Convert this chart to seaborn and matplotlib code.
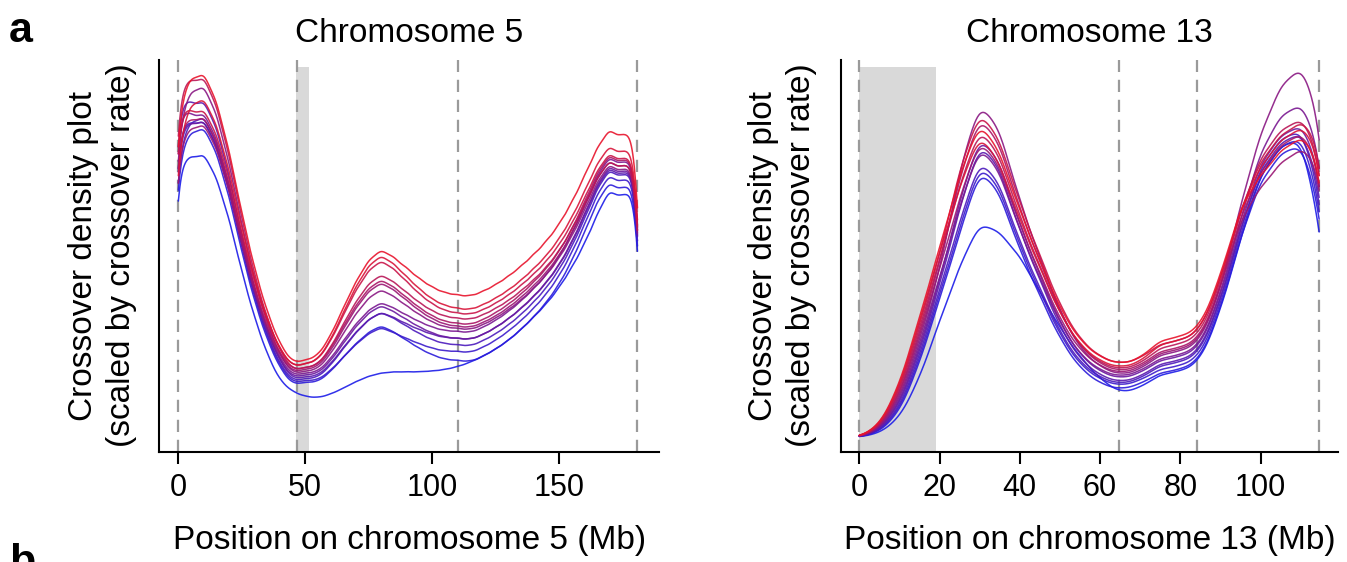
import numpy as np
import pandas as pd
import matplotlib
matplotlib.use("Agg")
import matplotlib.pyplot as plt
import seaborn as sns

sns.set_style("ticks")
plt.rcParams["font.family"] = ["Liberation Sans", "DejaVu Sans"]
plt.rcParams["text.color"] = "black"
plt.rcParams["axes.labelcolor"] = "black"
plt.rcParams["xtick.color"] = "black"
plt.rcParams["ytick.color"] = "black"

# Crossover rate per 5-Mb step along each chromosome, one list per sample
STEP_MB = 5
chr5_pos = list(range(0, 181, STEP_MB))
chr13_pos = list(range(0, 116, STEP_MB))
samples = [f"S{i:02d}" for i in range(1, 15)]

chr5_S01 = [.953, .985, 1.01, .928, .792, .616, .464, .344, .256, .203, .212, .222, .278, .355, .429, .488, .52, .495, .466, .436, .413, .397, .392, .387, .401, .419, .442, .47, .502, .538, .584, .644, .717, .795, .856, .816, .886]
chr5_S02 = [.851, .915, .94, .863, .738, .575, .434, .323, .242, .193, .202, .211, .266, .342, .415, .473, .504, .477, .442, .408, .38, .362, .355, .35, .364, .382, .404, .431, .463, .499, .544, .602, .674, .751, .81, .77, .84]
chr5_S03 = [.949, .885, .91, .836, .715, .559, .424, .318, .24, .193, .202, .21, .263, .335, .405, .46, .49, .463, .429, .394, .367, .348, .342, .337, .35, .368, .39, .417, .448, .483, .528, .585, .656, .731, .79, .75, .82]
chr5_S04 = [1.0, .974, .999, .916, .779, .601, .447, .326, .237, .183, .192, .198, .245, .311, .373, .423, .451, .427, .399, .37, .348, .332, .328, .323, .336, .354, .375, .402, .432, .467, .511, .568, .638, .712, .77, .73, .80]
chr5_S05 = [.894, .865, .89, .817, .698, .544, .411, .306, .229, .183, .192, .197, .242, .304, .363, .41, .437, .413, .385, .356, .334, .318, .314, .309, .323, .342, .365, .393, .426, .463, .509, .57, .645, .724, .785, .745, .815]
chr5_S06 = [.838, .845, .87, .798, .682, .531, .401, .298, .223, .178, .187, .192, .236, .297, .356, .402, .429, .405, .377, .348, .326, .31, .306, .301, .315, .333, .356, .384, .416, .453, .498, .558, .632, .71, .77, .73, .80]
chr5_S07 = [.902, .95, .975, .893, .758, .583, .432, .313, .226, .173, .182, .186, .228, .285, .34, .384, .41, .387, .362, .337, .317, .303, .30, .295, .309, .327, .35, .377, .409, .445, .491, .55, .623, .70, .76, .72, .79]
chr5_S08 = [.951, .875, .90, .825, .702, .542, .404, .296, .216, .168, .177, .179, .215, .265, .312, .35, .374, .355, .336, .318, .303, .293, .292, .287, .302, .321, .345, .374, .408, .446, .495, .558, .635, .717, .78, .74, .81]
chr5_S09 = [.881, .855, .88, .806, .685, .529, .394, .288, .21, .163, .172, .174, .209, .258, .305, .342, .366, .345, .324, .303, .287, .275, .273, .268, .282, .301, .325, .354, .387, .425, .473, .535, .611, .693, .755, .715, .785]
chr5_S10 = [.972, .909, .934, .855, .724, .555, .409, .293, .209, .158, .167, .168, .201, .246, .29, .324, .347, .329, .312, .296, .283, .274, .273, .268, .282, .301, .325, .353, .386, .424, .471, .532, .608, .688, .75, .71, .78]
chr5_S11 = [.833, .865, .89, .814, .69, .53, .391, .281, .201, .153, .162, .163, .197, .244, .288, .324, .347, .327, .306, .285, .268, .257, .255, .25, .265, .284, .308, .337, .371, .41, .459, .522, .599, .682, .745, .705, .775]
chr5_S12 = [.896, .855, .88, .805, .682, .522, .384, .276, .196, .148, .157, .156, .183, .22, .256, .285, .305, .287, .272, .257, .245, .237, .237, .232, .247, .266, .291, .32, .354, .393, .442, .505, .583, .666, .73, .69, .76]
chr5_S13 = [.811, .835, .86, .786, .665, .509, .374, .268, .19, .143, .152, .151, .18, .22, .258, .289, .31, .289, .267, .244, .227, .214, .212, .207, .222, .242, .266, .296, .33, .37, .419, .483, .562, .646, .71, .67, .74]
chr5_S14 = [.784, .765, .787, .717, .603, .456, .329, .228, .155, .125, .112, .108, .118, .135, .153, .168, .177, .18, .18, .18, .182, .186, .194, .206, .222, .242, .266, .295, .33, .366, .41, .465, .53, .61, .69, .65, .72]

chr13_S01 = [0, .03, .14, .33, .52, .721, .883, .788, .621, .487, .353, .264, .219, .20, .215, .27, .275, .30, .44, .64, .72, .79, .83, .799]
chr13_S02 = [0, .029, .134, .319, .508, .687, .85, .757, .596, .467, .338, .252, .208, .19, .205, .26, .265, .29, .43, .63, .748, .818, .858, .821]
chr13_S03 = [0, .027, .128, .309, .498, .737, .914, .822, .642, .501, .361, .267, .22, .20, .215, .26, .265, .29, .43, .63, .762, .832, .872, .847]
chr13_S04 = [0, .026, .122, .298, .486, .692, .867, .777, .605, .472, .338, .249, .204, .185, .20, .25, .255, .28, .42, .62, .775, .845, .885, .812]
chr13_S05 = [0, .024, .115, .287, .474, .714, .90, .811, .626, .484, .342, .248, .20, .18, .195, .24, .245, .27, .41, .61, .734, .804, .844, .78]
chr13_S06 = [0, .023, .11, .277, .463, .656, .836, .749, .582, .452, .323, .237, .194, .175, .19, .235, .24, .265, .405, .605, .687, .757, .797, .779]
chr13_S07 = [0, .022, .103, .266, .451, .735, .938, .852, .647, .495, .344, .242, .192, .17, .185, .23, .235, .26, .40, .64, .84, .97, 1.03, .916]
chr13_S08 = [0, .02, .097, .254, .439, .631, .818, .734, .566, .439, .311, .226, .183, .165, .18, .22, .225, .25, .39, .60, .79, .887, .927, .829]
chr13_S09 = [0, .019, .09, .243, .427, .648, .845, .762, .582, .448, .314, .224, .179, .16, .175, .215, .22, .245, .385, .585, .76, .83, .87, .771]
chr13_S10 = [0, .018, .085, .233, .417, .628, .825, .744, .566, .434, .301, .213, .169, .15, .165, .205, .21, .235, .375, .575, .74, .81, .85, .732]
chr13_S11 = [0, .016, .078, .222, .405, .588, .781, .701, .535, .411, .287, .204, .163, .145, .16, .20, .205, .23, .37, .57, .75, .82, .86, .699]
chr13_S12 = [0, .015, .072, .211, .393, .572, .767, .689, .524, .402, .28, .198, .158, .14, .155, .19, .195, .22, .36, .56, .73, .80, .84, .675]
chr13_S13 = [0, .013, .066, .201, .382, .557, .753, .676, .512, .39, .269, .188, .147, .13, .145, .18, .185, .21, .35, .55, .71, .78, .82, .651]
chr13_S14 = [0, .01, .05, .16, .32, .47, .60, .565, .50, .40, .30, .22, .16, .12, .135, .175, .18, .205, .345, .545, .73, .80, .84, .591]

chr5_rates = [chr5_S01, chr5_S02, chr5_S03, chr5_S04, chr5_S05, chr5_S06, chr5_S07,
              chr5_S08, chr5_S09, chr5_S10, chr5_S11, chr5_S12, chr5_S13, chr5_S14]
chr13_rates = [chr13_S01, chr13_S02, chr13_S03, chr13_S04, chr13_S05, chr13_S06, chr13_S07,
               chr13_S08, chr13_S09, chr13_S10, chr13_S11, chr13_S12, chr13_S13, chr13_S14]

# Chromosome layout: length, dashed reference positions, grey (unassembled) region, ticks
chr5_len = 181.0
chr5_marks = [0, 46.8, 110.3, 181.0]
chr5_gap = (46.5, 51.6)
chr5_ticks = [0, 50, 100, 150]
chr13_len = 114.6
chr13_marks = [0, 64.6, 84.1, 114.6]
chr13_gap = (0, 19.2)
chr13_ticks = [0, 20, 40, 60, 80, 100]

palette = sns.blend_palette(["#e8142c", "#1c1ce8"], n_colors=len(samples))
BW_MB = 3.0


def fixed_bandwidth(kde):
    # kernel width fixed in Mb, whatever the spread of the sample
    sd = float(np.sqrt(np.cov(kde.dataset, aweights=kde.weights)))
    return BW_MB / sd


def long_table(pos, series):
    parts = [pd.DataFrame({"pos": pos, "rate": vals, "sample": name})
             for name, vals in zip(samples, series)]
    return pd.concat(parts, ignore_index=True)


def draw(ax, df, length, marks, gap, ticks, xlim, title, xlabel, ylab_x):
    ax.axvspan(gap[0], gap[1], ymin=0, ymax=0.981, color="#d9d9d9", lw=0, zorder=0)
    for m in marks:
        ax.axvline(m, color="#9a9a9a", lw=1.6, dashes=(5.5, 3.5), zorder=1)
    sns.kdeplot(data=df, x="pos", weights="rate", hue="sample", hue_order=samples,
                palette=palette, common_norm=True, bw_method=fixed_bandwidth,
                clip=(0, length), gridsize=600, linewidth=1.1, alpha=0.9,
                legend=False, ax=ax, zorder=2)
    total = df["rate"].sum()
    ax.set_ylim(-0.04 / (STEP_MB * total), 1.04 / (STEP_MB * total))
    ax.set_xlim(*xlim)
    ax.set_xticks(ticks)
    ax.tick_params(axis="x", length=8.5, width=1.5, pad=6.5, labelsize=22,
                   color="black", labelcolor="black")
    ax.tick_params(axis="y", left=False, labelleft=False)
    for side in ("top", "right"):
        ax.spines[side].set_visible(False)
    for side in ("left", "bottom"):
        ax.spines[side].set_linewidth(1.5)
        ax.spines[side].set_color("black")
    ax.set_title(title, fontsize=24, pad=12.5, color="black")
    ax.set_xlabel(xlabel, fontsize=24, labelpad=16)
    ax.set_ylabel("Crossover density plot\n(scaled by crossover rate)", fontsize=24,
                  linespacing=1.3)
    ax.yaxis.set_label_coords(ylab_x, 0.5)


fig = plt.figure(figsize=(13.47, 5.62), dpi=100)
ax5 = fig.add_axes([0.11826, 0.19626, 0.37097, 0.69786])
ax13 = fig.add_axes([0.62472, 0.19626, 0.36860, 0.69786])

draw(ax5, long_table(chr5_pos, chr5_rates), chr5_len, chr5_marks, chr5_gap, chr5_ticks,
     (-7.5, 189.5), "Chromosome 5", "Position on chromosome 5 (Mb)", -0.045)
draw(ax13, long_table(chr13_pos, chr13_rates), chr13_len, chr13_marks, chr13_gap, chr13_ticks,
     (-4.43, 119.3), "Chromosome 13", "Position on chromosome 13 (Mb)", -0.049)

fig.text(0.0067, 0.926, "a", fontsize=31, fontweight="bold", va="baseline")
fig.text(0.0067, -0.022, "b", fontsize=31, fontweight="bold", va="baseline")

fig.savefig("out.png", dpi=100)
